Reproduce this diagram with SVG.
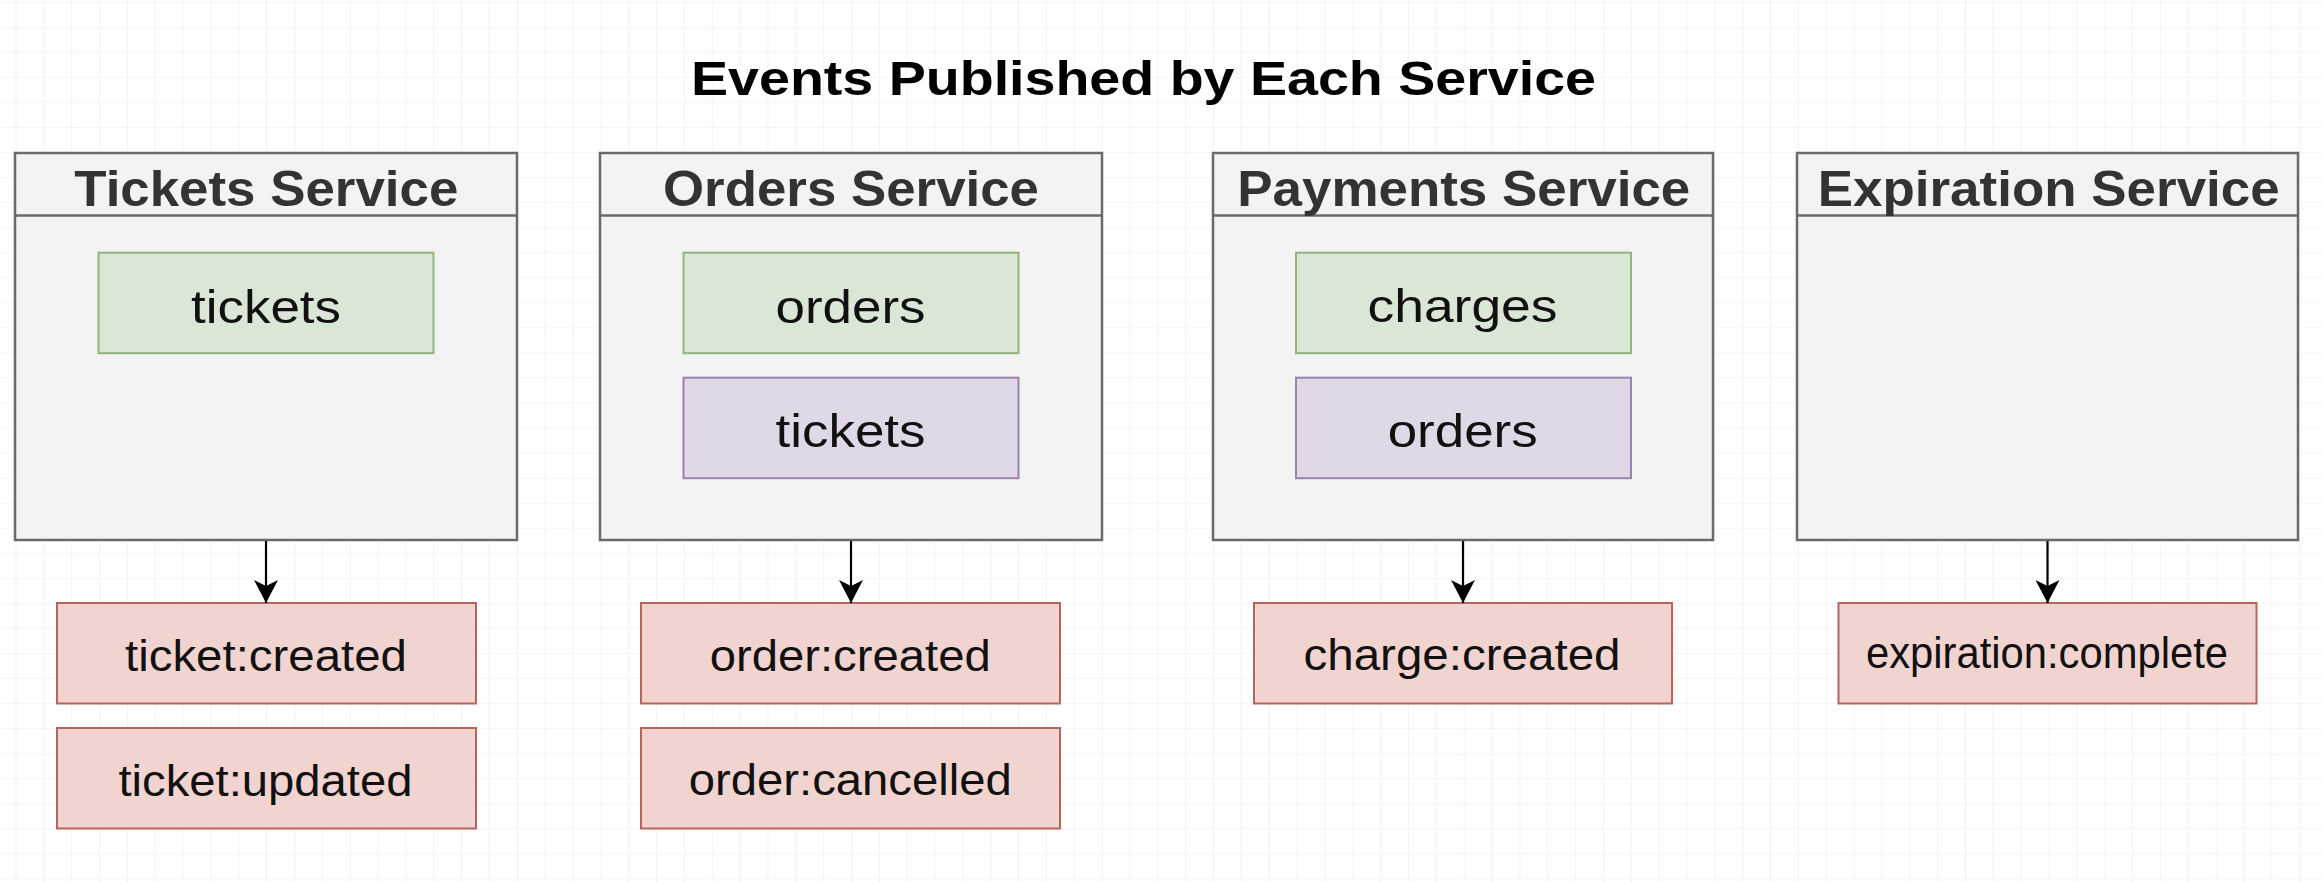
<svg xmlns="http://www.w3.org/2000/svg" width="2322" height="882" viewBox="0 0 2322 882">
<style>
.title{font-family:"Liberation Sans",Arial,sans-serif;font-weight:bold;font-size:48px;fill:#000;text-anchor:middle}
.svc{fill:#f3f3f3;stroke:#6a6a6a;stroke-width:2.5}
.svct{font-family:"Liberation Sans",Arial,sans-serif;font-weight:bold;font-size:50px;fill:#333;text-anchor:middle}
.grn{fill:#dae6d6;stroke:#93b47d;stroke-width:2}
.pur{fill:#e0d8e6;stroke:#9b83ab;stroke-width:2}
.red{fill:#f1d4d0;stroke:#b8645c;stroke-width:2}
.lbl{font-family:"Liberation Sans",Arial,sans-serif;font-size:47px;fill:#111;text-anchor:middle}
.ev{font-family:"Liberation Sans",Arial,sans-serif;font-size:44px;fill:#111;text-anchor:middle}
.conn{stroke:#000;stroke-width:2.2;fill:none;marker-end:url(#arr)}
</style>
<defs>
<pattern id="grid" x="15.5" y="1.7" width="27.85" height="25.05" patternUnits="userSpaceOnUse">
<path d="M0,0 H27.85 M0,0 V25.05" stroke="#ececec" stroke-width="1.2" fill="none"/>
</pattern>
<marker id="arr" viewBox="0 0 24 24" refX="23" refY="12" markerWidth="24" markerHeight="24" markerUnits="userSpaceOnUse" orient="auto">
<path d="M0,0 L23,12 L0,24 L6,12 Z" fill="#000"/>
</marker>
</defs>
<rect width="2322" height="882" fill="#fff"/>
<rect width="2322" height="882" fill="url(#grid)"/>
<text class="title" x="1143.5" y="95" textLength="905" lengthAdjust="spacingAndGlyphs">Events Published by Each Service</text>

<g id="tickets-service">
<rect class="svc" x="15" y="153" width="502" height="387"/>
<line x1="15" y1="215.5" x2="517" y2="215.5" stroke="#6a6a6a" stroke-width="2.5"/>
<text class="svct" x="266.3" y="206" textLength="384" lengthAdjust="spacingAndGlyphs">Tickets Service</text>
</g>
<g id="tickets-tickets">
<rect class="grn" x="98.5" y="252.7" width="335" height="100.5"/>
<text class="lbl" x="266" y="322.7" textLength="150" lengthAdjust="spacingAndGlyphs">tickets</text>
</g>

<g id="orders-service">
<rect class="svc" x="600" y="153" width="502" height="387"/>
<line x1="600" y1="215.5" x2="1102" y2="215.5" stroke="#6a6a6a" stroke-width="2.5"/>
<text class="svct" x="851" y="206" textLength="376" lengthAdjust="spacingAndGlyphs">Orders Service</text>
</g>
<g id="orders-orders">
<rect class="grn" x="683.5" y="252.7" width="335" height="100.5"/>
<text class="lbl" x="850.5" y="322.7" textLength="150" lengthAdjust="spacingAndGlyphs">orders</text>
</g>
<g id="orders-tickets">
<rect class="pur" x="683.5" y="377.7" width="335" height="100.5"/>
<text class="lbl" x="850.5" y="447.3" textLength="150" lengthAdjust="spacingAndGlyphs">tickets</text>
</g>

<g id="payments-service">
<rect class="svc" x="1213" y="153" width="500" height="387"/>
<line x1="1213" y1="215.5" x2="1713" y2="215.5" stroke="#6a6a6a" stroke-width="2.5"/>
<text class="svct" x="1463.8" y="206" textLength="453" lengthAdjust="spacingAndGlyphs">Payments Service</text>
</g>
<g id="payments-charges">
<rect class="grn" x="1296" y="252.7" width="335" height="100.5"/>
<text class="lbl" x="1462.5" y="321.5" textLength="190" lengthAdjust="spacingAndGlyphs">charges</text>
</g>
<g id="payments-orders">
<rect class="pur" x="1296" y="377.7" width="335" height="100.5"/>
<text class="lbl" x="1462.7" y="447" textLength="150" lengthAdjust="spacingAndGlyphs">orders</text>
</g>

<g id="expiration-service">
<rect class="svc" x="1797" y="153" width="501" height="387"/>
<line x1="1797" y1="215.5" x2="2298" y2="215.5" stroke="#6a6a6a" stroke-width="2.5"/>
<text class="svct" x="2048.7" y="206" textLength="462" lengthAdjust="spacingAndGlyphs">Expiration Service</text>
</g>

<g id="ev-ticket-created">
<rect class="red" x="57" y="603" width="419" height="100.5"/>
<text class="ev" x="266" y="671" textLength="282" lengthAdjust="spacingAndGlyphs">ticket:created</text>
</g>
<g id="ev-ticket-updated">
<rect class="red" x="57" y="728" width="419" height="100.5"/>
<text class="ev" x="265.5" y="795.7" textLength="294" lengthAdjust="spacingAndGlyphs">ticket:updated</text>
</g>
<g id="ev-order-created">
<rect class="red" x="641" y="603" width="419" height="100.5"/>
<text class="ev" x="850.2" y="671" textLength="281" lengthAdjust="spacingAndGlyphs">order:created</text>
</g>
<g id="ev-order-cancelled">
<rect class="red" x="641" y="728" width="419" height="100.5"/>
<text class="ev" x="850.3" y="795" textLength="323" lengthAdjust="spacingAndGlyphs">order:cancelled</text>
</g>
<g id="ev-charge-created">
<rect class="red" x="1254" y="603" width="418" height="100.5"/>
<text class="ev" x="1462" y="670" textLength="317" lengthAdjust="spacingAndGlyphs">charge:created</text>
</g>
<g id="ev-expiration-complete">
<rect class="red" x="1838.5" y="603" width="418" height="100.5"/>
<text class="ev" x="2047" y="667.7" font-size="40" textLength="362" lengthAdjust="spacingAndGlyphs">expiration:complete</text>
</g>

<g id="connectors">
<line class="conn" x1="266" y1="541" x2="266" y2="603"/>
<line class="conn" x1="851" y1="541" x2="851" y2="603"/>
<line class="conn" x1="1463" y1="541" x2="1463" y2="603"/>
<line class="conn" x1="2047.5" y1="541" x2="2047.5" y2="603"/>
</g>
</svg>
